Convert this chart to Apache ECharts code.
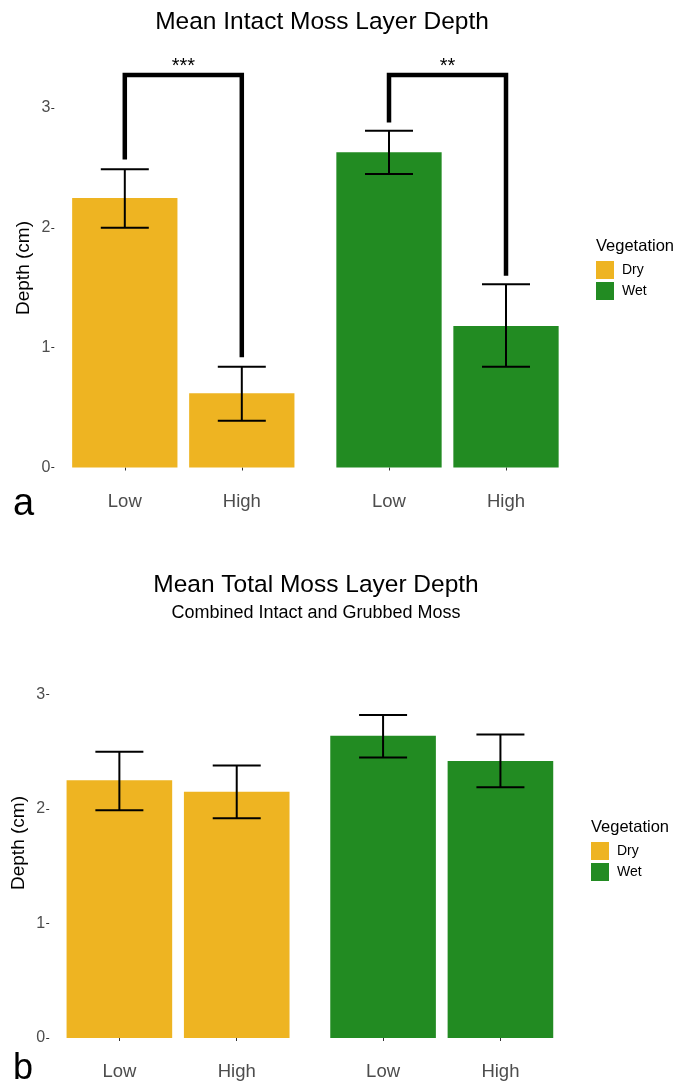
<!DOCTYPE html>
<html>
<head>
<meta charset="utf-8">
<script src="https://cdn.jsdelivr.net/npm/echarts@6/dist/echarts.min.js"></script>
<style>
html,body{margin:0;padding:0;background:#fff;}
#c{width:682px;height:1090px;}
</style>
</head>
<body>
<div id="c"></div>
<script>
// ---------- data ----------
const categories = ['Low', 'High'];
const vegetation = ['Dry', 'Wet'];
// Panel a: intact moss
const intactDryMean = [2.25, 0.62];
const intactDryLower = [2.00, 0.39];
const intactDryUpper = [2.49, 0.84];
const intactWetMean = [2.63, 1.18];
const intactWetLower = [2.45, 0.84];
const intactWetUpper = [2.81, 1.53];
// significance brackets (Dry, Wet)
const bracketTop = [3.275, 3.275];
const bracketLeftEnd = [2.57, 2.88];
const bracketRightEnd = [0.92, 1.60];
const bracketLabels = ['***', '**'];
// Panel b: total moss
const totalDryMean = [2.25, 2.15];
const totalDryLower = [1.99, 1.92];
const totalDryUpper = [2.50, 2.38];
const totalWetMean = [2.64, 2.42];
const totalWetLower = [2.45, 2.19];
const totalWetUpper = [2.82, 2.65];
const yTicks = [0, 1, 2, 3];

const colors = { Dry: '#EEB422', Wet: '#228B22' };
const FONT = 'Liberation Sans, Arial, sans-serif';

const chart = echarts.init(document.getElementById('c'));

const grids = [
  { left: 66.3, width: 234, top: 68.5, height: 399 },   // a dry
  { left: 330.5, width: 234, top: 68.5, height: 399 },  // a wet
  { left: 60.7, width: 234.7, top: 648, height: 390 },  // b dry
  { left: 324.4, width: 234.7, top: 648, height: 390 }  // b wet
];
const yMax = [3.33, 3.33, 3.406, 3.406];

const xAxes = grids.map((g, i) => ({
  type: 'category', gridIndex: i, data: categories,
  offset: 18.5,
  axisLine: { show: false },
  axisTick: { show: true, length: 3, lineStyle: { color: '#333', width: 1 }, alignWithLabel: true },
  axisLabel: { color: '#4d4d4d', fontSize: 18.5, fontFamily: FONT, margin: 6 }
}));

const yAxes = grids.map((g, i) => {
  const shown = (i === 0 || i === 2);
  return {
    type: 'value', gridIndex: i, min: 0, max: yMax[i], interval: 1,
    show: shown,
    offset: i === 0 ? 12 : 11.5,
    splitLine: { show: false },
    axisLine: { show: false },
    axisTick: { show: true, length: 3, customValues: yTicks, lineStyle: { color: '#333', width: 1 } },
    axisLabel: {
      color: '#4d4d4d', fontSize: 16, fontFamily: FONT, margin: 4, customValues: yTicks,
      formatter: v => (yTicks.indexOf(v) >= 0 ? String(v) : '')
    },
    name: 'Depth (cm)', nameLocation: 'middle', nameGap: 21,
    nameTextStyle: { color: '#000', fontSize: 19, fontFamily: FONT }
  };
});

function errSeries(idx, lower, upper) {
  return {
    type: 'custom', xAxisIndex: idx, yAxisIndex: idx, clip: false, silent: true, z: 5,
    data: categories.map((c, k) => [k, lower[k], upper[k]]),
    renderItem: (params, api) => {
      const lo = api.coord([api.value(0), api.value(1)]);
      const hi = api.coord([api.value(0), api.value(2)]);
      const hw = 24;
      const st = { stroke: '#000', lineWidth: 2 };
      return { type: 'group', children: [
        { type: 'line', shape: { x1: lo[0], y1: lo[1], x2: hi[0], y2: hi[1] }, style: st },
        { type: 'line', shape: { x1: hi[0] - hw, y1: hi[1], x2: hi[0] + hw, y2: hi[1] }, style: st },
        { type: 'line', shape: { x1: lo[0] - hw, y1: lo[1], x2: lo[0] + hw, y2: lo[1] }, style: st }
      ]};
    }
  };
}

function bracketSeries(idx, k) {
  return {
    type: 'custom', xAxisIndex: idx, yAxisIndex: idx, clip: false, silent: true, z: 6,
    data: [[bracketLeftEnd[k], bracketRightEnd[k], bracketTop[k]]],
    renderItem: (params, api) => {
      const l = api.coord([0, api.value(0)]);
      const tl = api.coord([0, api.value(2)]);
      const tr = api.coord([1, api.value(2)]);
      const r = api.coord([1, api.value(1)]);
      return { type: 'group', children: [
        { type: 'polyline', shape: { points: [l, tl, tr, r] },
          style: { stroke: '#000', lineWidth: 4.5, fill: null, lineJoin: 'miter' } },
        { type: 'text', x: (tl[0] + tr[0]) / 2, y: tl[1] + 1,
          style: { text: bracketLabels[k], fontSize: 20, fontFamily: FONT, fill: '#000',
                   align: 'center', verticalAlign: 'bottom' } }
      ]};
    }
  };
}

function barSeries(idx, name, values) {
  return {
    type: 'bar', name: name, xAxisIndex: idx, yAxisIndex: idx,
    data: values, barCategoryGap: '10%',
    itemStyle: { color: colors[name] }, silent: true
  };
}

const legendCommon = {
  orient: 'vertical', icon: 'rect', itemWidth: 18, itemHeight: 18, itemGap: 3,
  padding: 0, data: vegetation, selectedMode: false,
  textStyle: { color: '#000', fontSize: 14, fontFamily: FONT, padding: [0, 0, 0, 3] }
};

const option = {
  animation: false,
  backgroundColor: '#fff',
  title: [
    { text: 'Mean Intact Moss Layer Depth', left: 317, top: 5, textAlign: 'center',
      textStyle: { fontSize: 24.5, fontWeight: 'normal', color: '#000', fontFamily: FONT } },
    { text: 'Mean Total Moss Layer Depth', subtext: 'Combined Intact and Grubbed Moss',
      left: 311, top: 568, textAlign: 'center', itemGap: 6,
      textStyle: { fontSize: 24.5, fontWeight: 'normal', color: '#000', fontFamily: FONT },
      subtextStyle: { fontSize: 18, color: '#000', fontFamily: FONT } },
    { text: 'Vegetation', left: 596, top: 238,
      textStyle: { fontSize: 16.5, fontWeight: 'normal', color: '#000', fontFamily: FONT }, padding: 0 },
    { text: 'Vegetation', left: 591, top: 819,
      textStyle: { fontSize: 16.5, fontWeight: 'normal', color: '#000', fontFamily: FONT }, padding: 0 },
    { text: 'a', left: 13, top: 486, padding: 0,
      textStyle: { fontSize: 38, fontWeight: 'normal', color: '#000', fontFamily: FONT } },
    { text: 'b', left: 13, top: 1051, padding: 0,
      textStyle: { fontSize: 36, fontWeight: 'normal', color: '#000', fontFamily: FONT } }
  ],
  legend: [
    Object.assign({}, legendCommon, { left: 596, top: 261 }),
    Object.assign({}, legendCommon, { left: 591, top: 842 })
  ],
  grid: grids,
  xAxis: xAxes,
  yAxis: yAxes,
  series: [
    barSeries(0, 'Dry', intactDryMean),
    barSeries(1, 'Wet', intactWetMean),
    barSeries(2, 'Dry', totalDryMean),
    barSeries(3, 'Wet', totalWetMean),
    errSeries(0, intactDryLower, intactDryUpper),
    errSeries(1, intactWetLower, intactWetUpper),
    errSeries(2, totalDryLower, totalDryUpper),
    errSeries(3, totalWetLower, totalWetUpper),
    bracketSeries(0, 0),
    bracketSeries(1, 1)
  ]
};
chart.setOption(option);
</script>
</body>
</html>
